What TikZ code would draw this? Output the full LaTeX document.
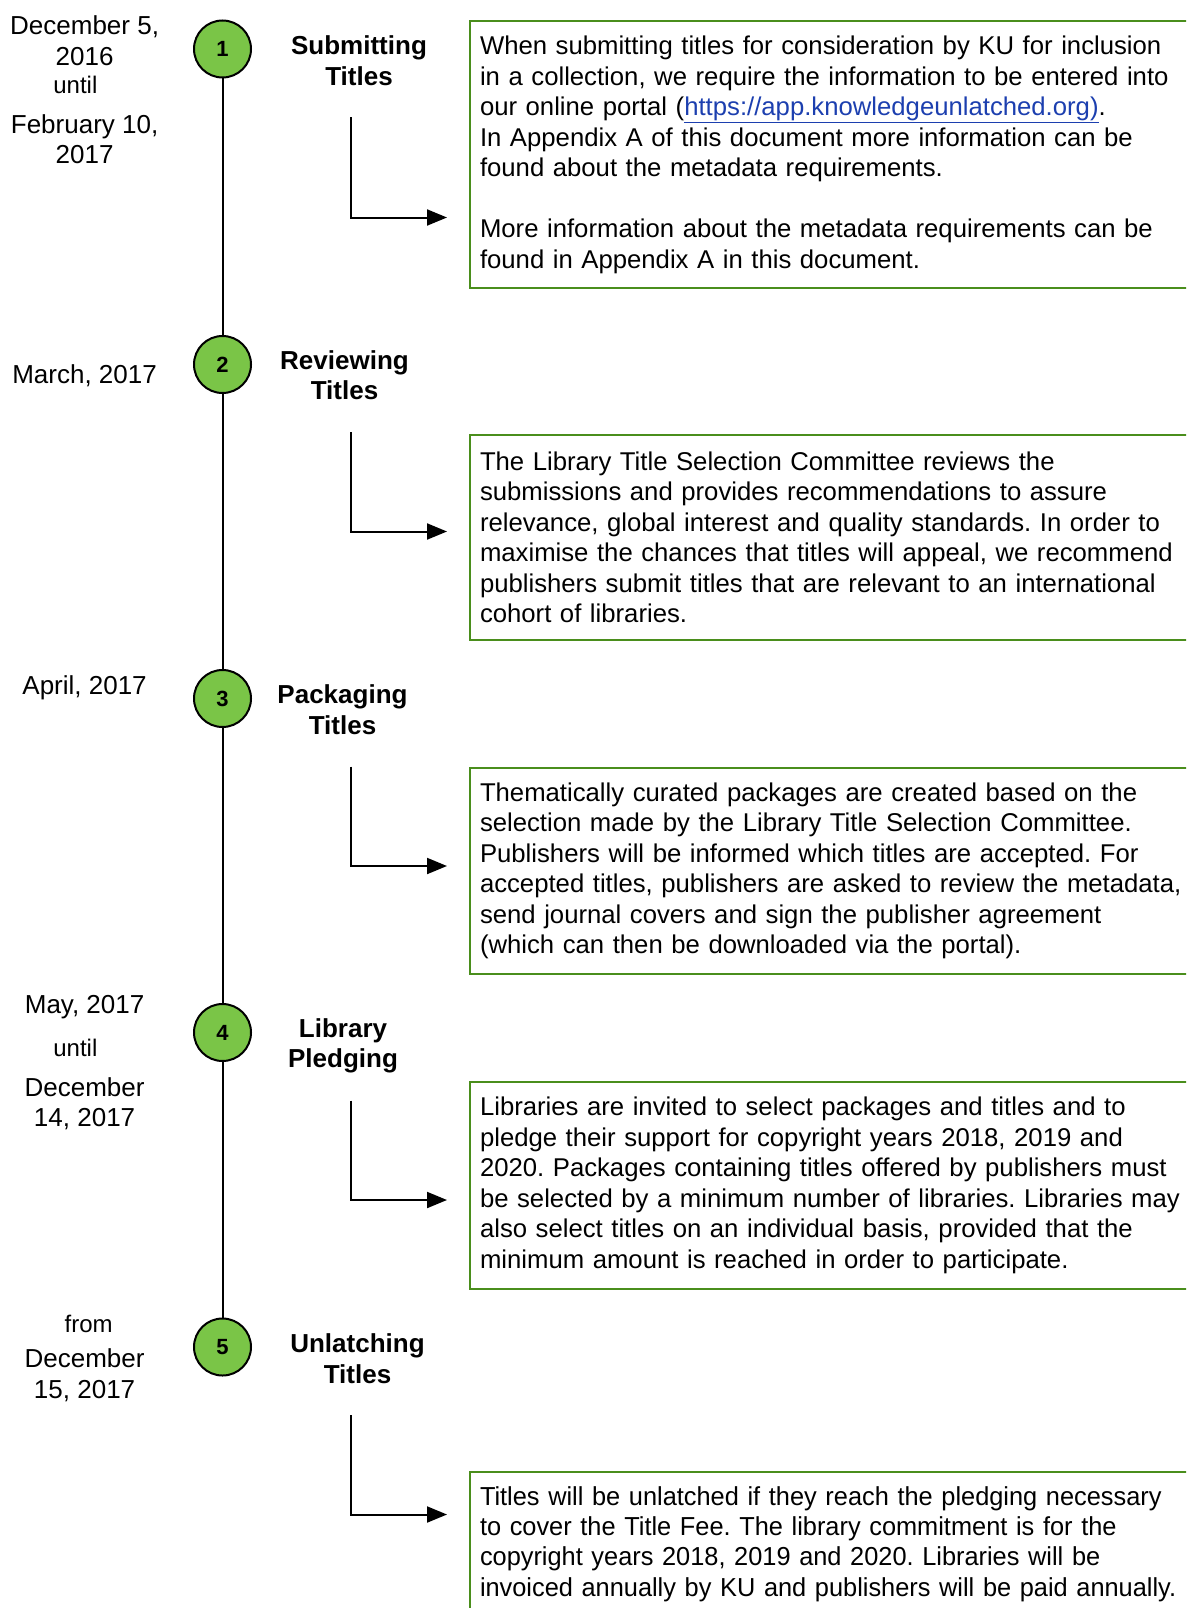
\documentclass[tikz,border=0pt]{standalone}
\usepackage{fontspec}
\setmainfont{Liberation Sans}
\newfontfamily\narrowfont[FakeStretch=0.975]{Liberation Sans}
\usetikzlibrary{arrows.meta}
\usetikzlibrary{positioning}
\definecolor{stepgreen}{HTML}{7AC547}
\definecolor{boxgreen}{HTML}{4A8E1C}
\definecolor{linkblue}{HTML}{1C3FAF}
\frenchspacing

\begin{document}
\begin{tikzpicture}[
  x=1pt, y=-1pt,
  every node/.style={font=\fontsize{26}{30.5}\selectfont},
  marker/.style={
    circle, draw, line width=2pt, fill=stepgreen,
    minimum size=57pt, inner sep=0pt,
    font=\fontsize{22}{26}\selectfont\bfseries
  },
  datelbl/.style={align=center},
  small/.style={font=\fontsize{24}{28}\selectfont},
  phase/.style={align=center, font=\fontsize{26}{30.5}\selectfont\bfseries},
  box/.style={
    draw=boxgreen, line width=2pt, anchor=north west,
    text width=780pt, inner xsep=10pt, align=left,
    font=\fontsize{25.7}{30.5}\selectfont
  },
  arrow/.style={-{Triangle[length=20pt,width=16pt]}, line width=2pt},
  timeline/.style={line width=2pt}
]
\useasboundingbox (0,0) rectangle (1186,1608);
\clip (0,0) rectangle (1186,1608);

% Steps
\node[marker] (s1) at (222.5,49) {1};
\node[marker] (s2) at (222.5,364.5) {2};
\node[marker] (s3) at (222.5,698.5) {3};
\node[marker] (s4) at (222.5,1032.5) {4};
\node[marker] (s5) at (222.5,1347) {5};

% Dates
\node[datelbl] (d1a) at (84.6,40.5) {December 5,\\2016};
\node[datelbl, small] (d1b) at (75.4,85.2) {until};
\node[datelbl] (d1c) at (84.6,139) {February 10,\\2017};
\node[datelbl] (d2) at (84.6,375.5) {March, 2017};
\node[datelbl] (d3) at (84.6,687.5) {April, 2017};
\node[datelbl] (d4a) at (84.6,1007) {May, 2017};
\node[datelbl, small] (d4b) at (75.4,1047.5) {until};
\node[datelbl] (d4c) at (84.6,1103.5) {December\\14, 2017};
\node[datelbl, small] (d5a) at (88.7,1323.5) {from};
\node[datelbl] (d5b) at (84.6,1375) {December\\15, 2017};

% Phases
\node[phase] (p1) at (359,60.5) {Submitting\\Titles};
\node[phase] (p2) at (344.5,375) {Reviewing\\Titles};
\node[phase] (p3) at (342.5,709.5) {Packaging\\Titles};
\node[phase] (p4) at (343,1046) {Library\\Pledging};
\node[phase] (p5) at (357.5,1358.5) {Unlatching\\Titles};

% Descriptions
\node[box, minimum height=266.5pt] (b1) at (469,20.5) {When submitting titles for consideration by KU for inclusion\\
in a collection, we require the information to be entered into\\
our online portal (\textcolor{linkblue}{\underline{https://app.knowledgeunlatched.org)}}.\\
In Appendix A of this document more information can be\\
found about the metadata requirements.\\
~\\
More information about the metadata requirements can be\\
found in Appendix A in this document.};
\node[box, minimum height=205pt] (b2) at (469,434) {The Library Title Selection Committee reviews the\\
submissions and provides recommendations to assure\\
relevance, global interest and quality standards. In order to\\
maximise the chances that titles will appeal, we recommend\\
publishers submit titles that are relevant to an international\\
cohort of libraries.};
\node[box, minimum height=206pt] (b3) at (469,767) {Thematically curated packages are created based on the\\
selection made by the Library Title Selection Committee.\\
Publishers will be informed which titles are accepted. For\\
accepted titles, publishers are asked to review the metadata,\\
send journal covers and sign the publisher agreement\\
(which can then be downloaded via the portal).};
\node[box, minimum height=207pt] (b4) at (469,1081) {Libraries are invited to select packages and titles and to\\
pledge their support for copyright years 2018, 2019 and\\
2020. Packages containing titles offered by publishers must\\
be selected by a minimum number of libraries. Libraries may\\
also select titles on an individual basis, provided that the\\
minimum amount is reached in order to participate.};
\node[box, minimum height=144pt, font=\fontsize{26}{30.2}\narrowfont] (b5) at (469,1471) {Titles will be unlatched if they reach the pledging necessary\\
to cover the Title Fee. The library commitment is for the\\
copyright years 2018, 2019 and 2020. Libraries will be\\
invoiced annually by KU and publishers will be paid annually.};

% Timeline
\draw[timeline] (s1) -- (s2);
\draw[timeline] (s2) -- (s3);
\draw[timeline] (s3) -- (s4);
\draw[timeline] (s4) -- (s5);

% Arrows
\coordinate (a1s) at (351,117.5);
\coordinate (a1e) at (447,217.5);
\coordinate (a2s) at (351,432);
\coordinate (a2e) at (447,531.5);
\coordinate (a3s) at (351,766.5);
\coordinate (a3e) at (447,866);
\coordinate (a4s) at (351,1100.5);
\coordinate (a4e) at (447,1200);
\coordinate (a5s) at (351,1415);
\coordinate (a5e) at (447,1514.5);
\draw[arrow] (a1s) |- (a1e);
\draw[arrow] (a2s) |- (a2e);
\draw[arrow] (a3s) |- (a3e);
\draw[arrow] (a4s) |- (a4e);
\draw[arrow] (a5s) |- (a5e);
\end{tikzpicture}
\end{document}
